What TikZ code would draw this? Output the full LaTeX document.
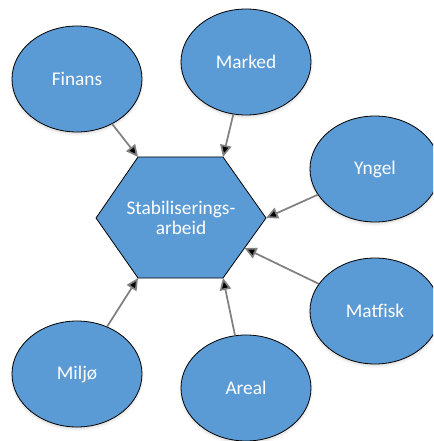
\documentclass[tikz,border=0pt]{standalone}
\usepackage{fontspec}
\setmainfont{Carlito}
\usetikzlibrary{arrows.meta, shapes.geometric, calc}
\usetikzlibrary{shadows.blur}
\definecolor{officeblue}{HTML}{5B9BD5}
\definecolor{arrowgray}{HTML}{808080}
\tikzset{
    %Define standard arrow tip
    >={Triangle[length=9pt,width=8.5pt]},
}

\begin{document}
\begin{tikzpicture}[x=0.75pt, y=-0.75pt]
	\tikzset{
	  el/.style={draw, fill=officeblue,
	             shape=ellipse,
		     line width=0.6pt,
		     minimum width=97.5pt,
		     minimum height=79.5pt,
		     inner sep=0pt,
		     text=white,
		     font=\fontsize{14.5pt}{15pt}\selectfont},
	 shd/.style={blur shadow={shadow xshift=0pt, shadow yshift=-1.5pt,
	             shadow opacity=15, shadow blur steps=5}},
	 ar/.style={draw=arrowgray, line width=1.3pt, ->}
	}
	\useasboundingbox (0,0) rectangle (433,441);
	\clip (0,0) rectangle (433,441);

	% hexagon corners
	\coordinate (hl) at (96,218);
	\coordinate (htl) at (138,157);
	\coordinate (htr) at (223,157);
	\coordinate (hr) at (266,218);
	\coordinate (hbr) at (223,278);
	\coordinate (hbl) at (138,278);
	\coordinate (hbe) at ($(hr)!0.5!(hbr)$);

	\draw[fill=officeblue, line width=0.6pt] (hl) -- (htl) -- (htr) -- (hr)
	      -- (hbr) -- (hbl) -- cycle;
	\node[text=white, align=center, font=\fontsize{14.5pt}{15pt}\selectfont]
	      (stab) at (181,218) {Stabiliserings-\\arbeid};

	\node [el, shd] (finans) at (77,79) {Finans};
	\node [el, shd] (marked) at (246,62) {Marked};
	\node [el, shd] (yngel) at (375,169) {Yngel};
	\node [el, shd] (matfisk) at (375,311) {Matfisk};
	\node [el, shd] (areal) at (246,388) {Areal};
	\node [el, shd] (miljo) at (77,374) {Miljø};

	\path[ar] (finans) edge (htl)
	          (marked) edge (htr)
		  (yngel) edge (hr)
		  (matfisk) edge (hbe)
		  (areal) edge (hbr)
		  (miljo) edge (hbl);

\end{tikzpicture}
\end{document}
